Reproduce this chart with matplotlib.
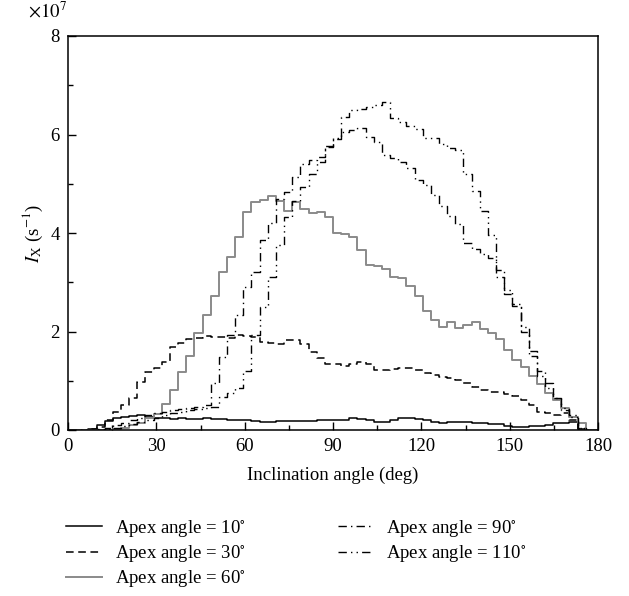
import matplotlib
matplotlib.use("Agg")
import matplotlib.pyplot as plt
import numpy as np
from matplotlib.ticker import MultipleLocator

plt.rcParams['font.family'] = ['Liberation Serif', 'DejaVu Serif']
plt.rcParams['mathtext.fontset'] = 'stix'

# bin centres (deg), 66 bins across 0-180
theta = np.arange(66) * 180.0 / 65.0

# intensity in units of 1e7 s^-1
apex10 = [0, 0, 0, 0.03, 0.10, 0.19, 0.25, 0.27, 0.28, 0.30, 0.26, 0.24, 0.24, 0.22, 0.24, 0.22,
          0.23, 0.24, 0.23, 0.22, 0.21, 0.21, 0.20, 0.18, 0.17, 0.17, 0.18, 0.19, 0.19, 0.18, 0.18, 0.20,
          0.20, 0.20, 0.21, 0.24, 0.23, 0.20, 0.16, 0.16, 0.21, 0.24, 0.24, 0.23, 0.20, 0.16, 0.15, 0.16,
          0.17, 0.17, 0.15, 0.14, 0.13, 0.12, 0.08, 0.07, 0.07, 0.08, 0.09, 0.10, 0.14, 0.14, 0.16, 0.02,
          0, 0]
apex30 = [0, 0, 0, 0.02, 0.06, 0.20, 0.37, 0.51, 0.65, 0.98, 1.18, 1.25, 1.39, 1.69, 1.76, 1.84,
          1.86, 1.91, 1.89, 1.89, 1.86, 1.93, 1.90, 1.88, 1.79, 1.76, 1.74, 1.83, 1.82, 1.75, 1.59, 1.46,
          1.35, 1.35, 1.29, 1.35, 1.39, 1.33, 1.22, 1.21, 1.24, 1.25, 1.25, 1.21, 1.15, 1.12, 1.08, 1.05,
          1.02, 0.95, 0.87, 0.81, 0.78, 0.77, 0.74, 0.69, 0.61, 0.51, 0.37, 0.34, 0.30, 0.34, 0.20, 0.03,
          0, 0]
apex60 = [0, 0, 0, 0, 0, 0, 0.02, 0.05, 0.10, 0.15, 0.25, 0.32, 0.53, 0.81, 1.18, 1.51,
          1.96, 2.33, 2.73, 3.21, 3.52, 3.91, 4.43, 4.62, 4.68, 4.76, 4.64, 4.45, 4.62, 4.48, 4.41, 4.43,
          4.32, 4.01, 3.97, 3.92, 3.65, 3.36, 3.32, 3.26, 3.11, 3.08, 2.92, 2.73, 2.42, 2.23, 2.10, 2.20,
          2.08, 2.13, 2.20, 2.06, 1.96, 1.85, 1.62, 1.43, 1.27, 1.10, 0.93, 0.75, 0.60, 0.45, 0.27, 0.15,
          0, 0]
apex90 = [0, 0, 0, 0, 0.02, 0.05, 0.10, 0.15, 0.20, 0.25, 0.30, 0.34, 0.37, 0.40, 0.42, 0.45,
          0.47, 0.50, 0.95, 1.48, 1.92, 2.33, 2.91, 3.21, 3.86, 4.21, 4.70, 4.84, 5.14, 5.41, 5.48, 5.55,
          5.77, 5.90, 6.06, 6.10, 6.13, 5.94, 5.85, 5.58, 5.52, 5.45, 5.31, 5.08, 4.97, 4.78, 4.55, 4.35,
          4.18, 3.80, 3.68, 3.58, 3.50, 3.10, 2.77, 2.52, 2.00, 1.50, 1.10, 0.85, 0.65, 0.45, 0.30, 0.05,
          0, 0]
apex110 = [0, 0, 0, 0, 0.01, 0.03, 0.05, 0.08, 0.12, 0.16, 0.20, 0.25, 0.30, 0.34, 0.37, 0.40,
           0.43, 0.45, 0.47, 0.68, 0.75, 0.85, 1.20, 1.92, 2.50, 3.11, 3.76, 4.33, 4.64, 4.94, 5.20, 5.45,
           5.75, 5.92, 6.36, 6.50, 6.52, 6.56, 6.60, 6.67, 6.33, 6.25, 6.18, 6.12, 5.92, 5.92, 5.80, 5.72,
           5.68, 5.20, 4.85, 4.45, 3.95, 3.25, 2.85, 2.55, 2.10, 1.60, 1.20, 0.95, 0.64, 0.41, 0.26, 0.05,
           0, 0]

labels = ['Apex angle = 10$^{\\circ}$', 'Apex angle = 30$^{\\circ}$', 'Apex angle = 60$^{\\circ}$',
          'Apex angle = 90$^{\\circ}$', 'Apex angle = 110$^{\\circ}$']

fig = plt.figure(figsize=(6.29, 5.96), dpi=100)
ax = fig.add_axes([68 / 629, 1 - 430 / 596, 530 / 629, 394 / 596])

ax.step(theta, apex10, where='mid', color='black', lw=1.1, label=labels[0])
ax.step(theta, apex30, where='mid', color='black', lw=1.1, ls=(0, (5, 3)), label=labels[1])
ax.step(theta, apex60, where='mid', color='#8a8a8a', lw=1.4, label=labels[2])
ax.step(theta, apex90, where='mid', color='black', lw=1.0, ls=(0, (6, 3, 1, 3)), label=labels[3])
ax.step(theta, apex110, where='mid', color='black', lw=1.0, ls=(0, (6, 3, 1, 3, 1, 3)), label=labels[4])

ax.set_xlim(0, 180)
ax.set_ylim(0, 8)
ax.xaxis.set_major_locator(MultipleLocator(30))
ax.xaxis.set_minor_locator(MultipleLocator(15))
ax.yaxis.set_major_locator(MultipleLocator(2))
ax.yaxis.set_minor_locator(MultipleLocator(1))
ax.tick_params(which='both', direction='in', top=False, right=False, labelsize=13.5, width=1.0, pad=6)
ax.tick_params(which='major', length=6)
ax.tick_params(which='minor', length=3.5)
for sp in ax.spines.values():
    sp.set_linewidth(1.1)

ax.set_xlabel('Inclination angle (deg)', fontsize=13.5, labelpad=8)
ax.set_ylabel('$I_{\\mathrm{X}}$ (s$^{-1}$)', fontsize=13.5, labelpad=4)
fig.text(67 / 629, 1 - 11 / 596, '$\\times10^{7}$', ha='right', va='center', fontsize=13.5)

fig.legend(loc='upper left', bbox_to_anchor=(66 / 629, 1 - 518 / 596), ncol=2, frameon=False,
           fontsize=13.5, handlelength=1.9, handletextpad=0.7, columnspacing=4.9,
           labelspacing=0.22, borderaxespad=0, borderpad=0)

fig.savefig('out.png', dpi=100)
